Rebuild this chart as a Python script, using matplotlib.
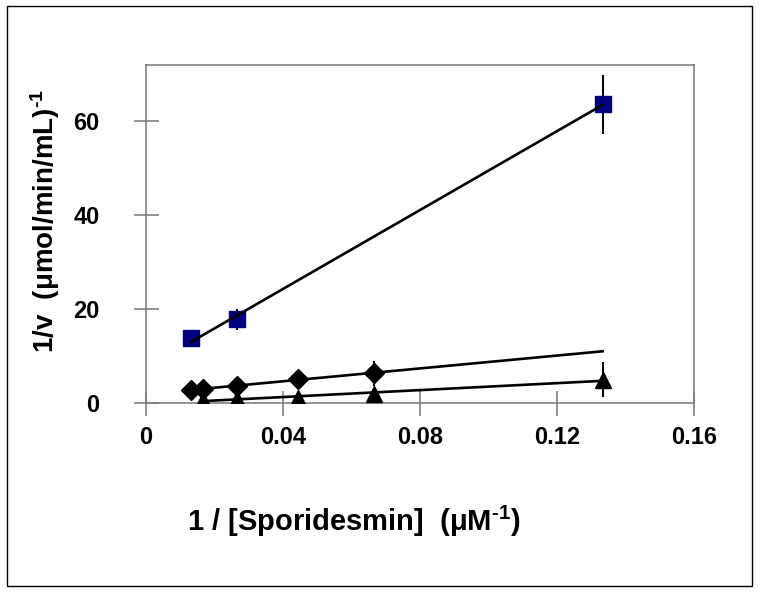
import numpy as np
import matplotlib.pyplot as plt
from matplotlib.patches import Rectangle

plt.rcParams['font.family'] = ['Liberation Sans', 'DejaVu Sans']
plt.rcParams['mathtext.fontset'] = 'custom'
plt.rcParams['mathtext.rm'] = 'Liberation Sans:bold'
plt.rcParams['mathtext.bf'] = 'Liberation Sans:bold'
plt.rcParams['mathtext.default'] = 'bf'

# 1/[Sporidesmin] (uM^-1) and 1/v values
sq_x = [0.0133, 0.0267, 0.1333]
sq_y = [13.8, 17.9, 63.6]
sq_err = [0.6, 2.2, 6.2]

dia_x = [0.0133, 0.0167, 0.0267, 0.0444, 0.0667]
dia_y = [2.8, 3.1, 3.7, 5.2, 6.4]
dia_err = [0.3, 0.3, 0.4, 0.5, 2.7]

tri_x = [0.0167, 0.0267, 0.0444, 0.0667, 0.1333]
tri_y = [0.8, 1.0, 1.1, 2.0, 5.0]
tri_err = [0.2, 0.2, 0.3, 0.5, 3.7]

# x span of each trendline
sq_span = [0.0133, 0.1333]
dia_span = [0.0167, 0.1333]
tri_span = [0.0167, 0.1333]

fig = plt.figure(figsize=(7.62, 5.96), dpi=100)
ax = fig.add_axes([0.191, 0.3233, 0.72, 0.5677])

for xs, ys, span in [(sq_x, sq_y, sq_span), (dia_x, dia_y, dia_span), (tri_x, tri_y, tri_span)]:
    k, b = np.polyfit(xs, ys, 1)
    lx = np.array(span)
    ax.plot(lx, k * lx + b, color='black', lw=1.9, zorder=3)

ax.errorbar(dia_x, dia_y, yerr=dia_err, fmt='D', color='black', ms=10, ecolor='black',
            elinewidth=1.4, capsize=0, zorder=4)
ax.errorbar(tri_x, tri_y, yerr=tri_err, fmt='^', color='black', ms=12, ecolor='black',
            elinewidth=1.4, capsize=0, zorder=4)
ax.errorbar(sq_x, sq_y, yerr=sq_err, fmt='s', color='#000080', mec='#000080', ms=12,
            ecolor='black', elinewidth=1.4, capsize=0, zorder=2)

ax.set_xlim(0, 0.16)
ax.set_ylim(0, 72)
ax.set_xticks([0, 0.04, 0.08, 0.12, 0.16])
ax.set_xticklabels(['0', '0.04', '0.08', '0.12', '0.16'])
ax.set_yticks([0, 20, 40, 60])

for s in ax.spines.values():
    s.set_color('#808080')
    s.set_linewidth(1.2)

ax.tick_params(axis='both', direction='inout', length=18, width=1.2, color='#808080',
               labelsize=17)
ax.tick_params(axis='x', pad=7)
ax.tick_params(axis='y', pad=24)
for lab in ax.get_xticklabels() + ax.get_yticklabels():
    lab.set_fontweight('bold')

fig.text(0.465, 0.125, r'1 / [Sporidesmin]  (μM$^{\text{-1}}$)', fontsize=21,
         fontweight='bold', ha='center', va='center')
ax.set_ylabel(r'1/v  (μmol/min/mL)$^{\text{-1}}$', fontsize=20, fontweight='bold')
ax.yaxis.set_label_coords(-0.152, 0.54)

fig.patches.append(Rectangle((0.009, 0.017), 0.978, 0.973, transform=fig.transFigure,
                             fill=False, edgecolor='black', lw=1))

plt.savefig('out.png', dpi=100)
